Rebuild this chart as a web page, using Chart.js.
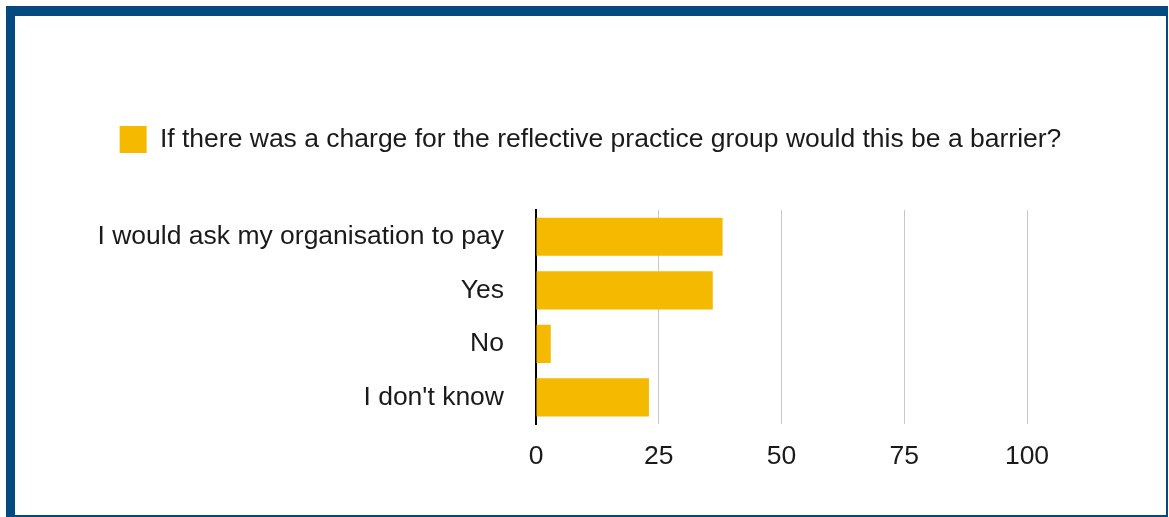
<!DOCTYPE html>
<html>
<head>
<meta charset="utf-8">
<title>Reflective practice group</title>
<script src="https://cdn.jsdelivr.net/npm/chart.js@4.4.0/dist/chart.umd.min.js"></script>
<style>
  html, body { margin: 0; padding: 0; background: #fff; }
  .frame {
    position: absolute;
    left: 6px;
    top: 6px;
    width: 1151px;
    height: 499px;
    border-style: solid;
    border-color: #034a80;
    border-width: 10px 2px 2px 9px;
    background: #fff;
  }
  .frame canvas { display: block; }
</style>
</head>
<body>
<div class="frame">
  <canvas id="barrierChart"></canvas>
</div>
<script>
// survey answers
const question = 'If there was a charge for the reflective practice group would this be a barrier?';
const answers = ['I would ask my organisation to pay', 'Yes', 'No', "I don't know"];
const responses = [38, 36, 3, 23];
const xTicks = [0, 25, 50, 75, 100];

const font = { family: "'Liberation Sans', Arial, Helvetica, sans-serif", size: 26.5 };

// legend: extra space under it, and centred across the whole canvas
const legendLayout = {
    id: 'legendLayout',
    beforeInit(chart) {
        const fit = chart.legend.fit;
        chart.legend.fit = function () {
            fit.bind(chart.legend)();
            this.height += 47;
        };
    },
    afterLayout(chart) {
        const legend = chart.legend;
        legend.left = 0;
        legend.right = chart.width;
        legend.width = chart.width;
    }
};

document.addEventListener('DOMContentLoaded', () => {
    const ctx = document.getElementById('barrierChart');

    new Chart(ctx, {
        type: 'bar',
        data: {
            labels: answers,
            datasets: [{
                label: question,
                data: responses,
                backgroundColor: '#f5b900',
                borderWidth: 0,
                categoryPercentage: 0.8,
                barPercentage: 0.89
            }]
        },
        plugins: [legendLayout],
        options: {
            indexAxis: 'y',
            responsive: true,
            maintainAspectRatio: false,
            animation: false,
            layout: {
                padding: { top: 100, left: 0, right: 139, bottom: 25 }
            },
            plugins: {
                tooltip: { enabled: false },
                legend: {
                    display: true,
                    position: 'top',
                    labels: {
                        boxWidth: 27,
                        boxHeight: 27,
                        color: '#1a1a1a',
                        font: font
                    }
                }
            },
            scales: {
                x: {
                    min: 0,
                    max: 100,
                    afterBuildTicks(scale) {
                        scale.ticks = xTicks.map(v => ({ value: v }));
                    },
                    grid: {
                        drawTicks: false,
                        color: (c) => c.tick && c.tick.value === 0 ? 'rgba(0,0,0,0)' : '#c8c8c8',
                        lineWidth: 1
                    },
                    border: { display: false },
                    ticks: {
                        color: '#1a1a1a',
                        font: font,
                        padding: 17
                    }
                },
                y: {
                    grid: { display: false, drawTicks: false },
                    border: { display: true, color: '#000', width: 2 },
                    afterFit(scale) {
                        scale.width = 521;
                    },
                    ticks: {
                        color: '#1a1a1a',
                        font: font,
                        padding: 32
                    }
                }
            }
        }
    });
});
</script>
</body>
</html>
